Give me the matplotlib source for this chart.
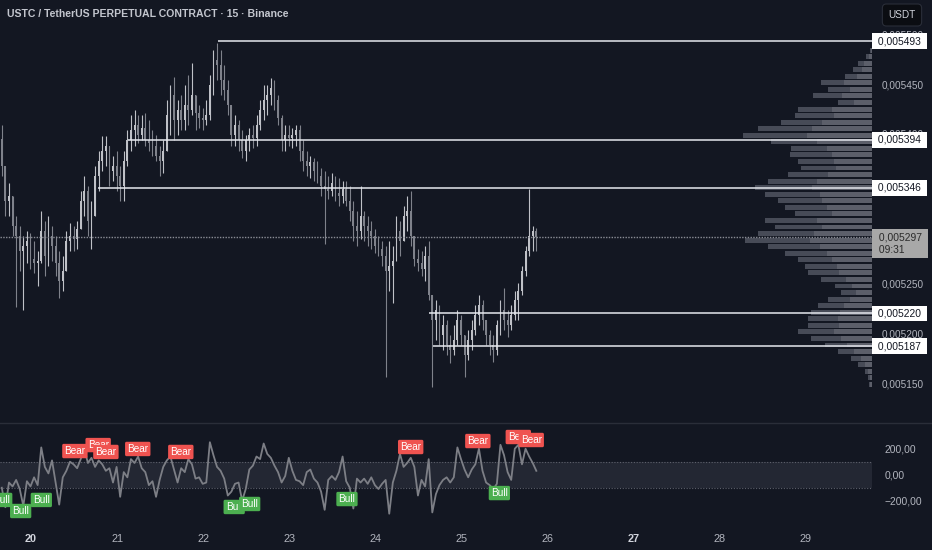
import numpy as np
import matplotlib
matplotlib.use("Agg")
import matplotlib.pyplot as plt
from matplotlib import transforms
from matplotlib.lines import Line2D

plt.rcParams['font.family'] = ['Liberation Sans', 'DejaVu Sans']

# prices are in micro-USDT (5297 -> 0,005297); hourly bars starting at day 19.64
t0 = 19.64

close_u = [5368, 5333, 5338, 5308, 5298, 5283, 5288, 5293, 5275, 5271,
           5273, 5303, 5278, 5298, 5288, 5271, 5253, 5263, 5293, 5298,
           5295, 5305, 5333, 5343, 5313, 5318, 5358, 5373, 5383, 5388,
           5363, 5368, 5358, 5348, 5373, 5394, 5404, 5409, 5399, 5406,
           5394, 5391, 5388, 5378, 5373, 5383, 5419, 5439, 5414, 5424,
           5414, 5429, 5424, 5439, 5421, 5416, 5414, 5419, 5449, 5474,
           5469, 5454, 5444, 5429, 5399, 5409, 5394, 5383, 5394, 5399,
           5396, 5409, 5424, 5434, 5439, 5446, 5434, 5416, 5394, 5399,
           5396, 5399, 5404, 5383, 5373, 5368, 5372, 5363, 5358, 5348,
           5345, 5343, 5351, 5341, 5338, 5345, 5333, 5323, 5308, 5303,
           5318, 5308, 5303, 5298, 5288, 5285, 5278, 5263, 5268, 5273,
           5303, 5293, 5318, 5323, 5298, 5275, 5271, 5265, 5278, 5238,
           5213, 5223, 5198, 5208, 5188, 5183, 5193, 5213, 5198, 5178,
           5193, 5203, 5218, 5228, 5213, 5198, 5188, 5183, 5208, 5223,
           5213, 5208, 5218, 5233, 5243, 5263, 5283, 5298, 5303, 5297]

high_u = [5409, 5368, 5351, 5338, 5318, 5308, 5298, 5303, 5301, 5293,
          5283, 5323, 5313, 5318, 5308, 5298, 5283, 5278, 5303, 5311,
          5308, 5313, 5343, 5358, 5348, 5333, 5368, 5383, 5398, 5398,
          5383, 5378, 5383, 5368, 5383, 5404, 5419, 5424, 5419, 5419,
          5421, 5414, 5404, 5399, 5388, 5394, 5434, 5449, 5457, 5434,
          5439, 5449, 5459, 5471, 5434, 5429, 5426, 5434, 5459, 5484,
          5491, 5484, 5469, 5454, 5429, 5419, 5414, 5404, 5399, 5406,
          5409, 5419, 5434, 5449, 5449, 5456, 5454, 5439, 5419, 5409,
          5409, 5406, 5409, 5409, 5394, 5383, 5378, 5376, 5373, 5366,
          5363, 5358, 5361, 5358, 5356, 5353, 5353, 5348, 5333, 5323,
          5348, 5323, 5318, 5313, 5305, 5298, 5293, 5288, 5293, 5288,
          5318, 5313, 5328, 5338, 5343, 5293, 5285, 5283, 5288, 5293,
          5238, 5233, 5228, 5218, 5213, 5198, 5208, 5223, 5218, 5198,
          5203, 5213, 5228, 5238, 5233, 5213, 5203, 5198, 5213, 5233,
          5246, 5223, 5228, 5243, 5251, 5268, 5288, 5345, 5308, 5306]

low_u = [5358, 5318, 5318, 5298, 5226, 5263, 5223, 5271, 5265, 5261,
         5248, 5271, 5258, 5268, 5273, 5258, 5235, 5243, 5263, 5283,
         5283, 5285, 5308, 5318, 5298, 5285, 5318, 5343, 5363, 5368,
         5348, 5353, 5343, 5333, 5333, 5368, 5383, 5388, 5391, 5394,
         5388, 5383, 5378, 5373, 5358, 5361, 5394, 5399, 5394, 5399,
         5404, 5404, 5409, 5419, 5404, 5406, 5404, 5409, 5414, 5439,
         5454, 5439, 5434, 5419, 5388, 5388, 5383, 5376, 5373, 5383,
         5386, 5388, 5404, 5414, 5419, 5429, 5424, 5409, 5383, 5383,
         5388, 5386, 5388, 5373, 5363, 5358, 5356, 5353, 5351, 5338,
         5290, 5335, 5338, 5333, 5328, 5331, 5328, 5313, 5293, 5288,
         5295, 5293, 5288, 5285, 5281, 5278, 5268, 5156, 5243, 5230,
         5273, 5278, 5293, 5303, 5288, 5268, 5263, 5258, 5253, 5233,
         5146, 5193, 5188, 5183, 5178, 5170, 5178, 5188, 5188, 5156,
         5173, 5183, 5198, 5208, 5203, 5188, 5178, 5171, 5178, 5198,
         5203, 5196, 5203, 5213, 5213, 5238, 5258, 5278, 5283, 5283]

first_open = 5395

cci = [-100, -250, -60, -90, -40, -110, -240, -50, -90, -20,
       -80, 210, 60, 10, 110, -60, -230, -20, 30, 100,
       80, 50, 120, 200, 90, 130, 60, 110, 80, 30,
       50, -60, 60, -170, 20, -20, 120, 90, 140, 50,
       20, -80, -50, -170, -40, 60, 110, 140, 40, -60,
       50, 20, 120, 80, -30, -20, -70, -60, 250, 150,
       60, 30, -30, -160, -130, -70, -60, -200, -110, 40,
       70, 140, 120, 240, 160, 130, 70, 20, -60, -10,
       130, 30, -40, -50, -80, 20, 40, -30, -60, -130,
       -270, -40, -10, -40, 20, 140, -50, -100, -260, -30,
       -60, -30, -70, -20, -80, -110, -70, -40, -300, -60,
       30, 160, 60, 90, 130, 60, -160, -40, -90, 120,
       -290, -150, -80, -40, -20, -60, -20, 210, 120, 40,
       -20, 40, 80, 200, 30, -60, -80, -110, -70, 230,
       150, 20, -40, 200, 230, 80, 200, 140, 90, 30]

# horizontal levels: price, start day
levels = [5493, 5394, 5346, 5220, 5187]
level_start = [22.17, 21.13, 20.78, 24.62, 24.67]
last_price = 5297
last_label = " 0,005297 \n 09:31"

# volume profile (top to bottom)
vp_top, vp_bottom = 5484, 5149
vp_total = [2, 6, 14, 19, 27, 51, 44, 59, 34, 74, 77, 91, 114, 129, 101, 81, 82, 74,
            71, 84, 104, 117, 107, 94, 87, 77, 107, 97, 114, 127, 104, 87, 74, 67,
            64, 51, 37, 31, 44, 54, 61, 64, 64, 74, 61, 47, 34, 21, 14, 7, 4, 3]
vp_up = [1, 3, 8, 10, 15, 28, 22, 30, 18, 40, 38, 50, 60, 65, 55, 45, 40, 38,
         36, 44, 55, 60, 52, 50, 45, 40, 55, 50, 58, 62, 52, 45, 40, 35,
         33, 26, 20, 16, 22, 28, 32, 34, 33, 38, 31, 25, 18, 11, 7, 4, 2, 2]

bear_x = [20.51, 20.78, 20.87, 21.24, 21.74, 24.41, 25.19, 25.66, 25.81]
bear_y = [182, 228, 175, 198, 175, 213, 259, 290, 267]
bull_x = [19.66, 19.88, 20.12, 22.36, 22.54, 23.67, 25.44]
bull_y = [-194, -279, -194, -248, -225, -187, -141]

days = [20, 21, 22, 23, 24, 25, 26, 27, 28, 29]
price_ticks = [5150, 5200, 5250, 5300, 5350, 5400, 5450, 5500]

bg = '#131722'
txt = '#b2b5be'

W, H = 932, 550
fig = plt.figure(figsize=(W / 100, H / 100), dpi=100, facecolor=bg)

ax = fig.add_axes([0, 1 - 420 / H, 872 / W, 420 / H])
axi = fig.add_axes([0, 1 - 527 / H, 872 / W, 103 / H])
axp = ax.twiny()

for a in (ax, axi, axp):
    a.set_facecolor(bg)
    for s in a.spines.values():
        s.set_visible(False)

ax.set_zorder(2)
axp.set_zorder(1)
ax.patch.set_visible(False)

xmin, xmax = 19.64, 29.768
ax.set_xlim(xmin, xmax)
axi.set_xlim(xmin, xmax)
ax.set_ylim(5113.2, 5534.2)

# candles
n = len(close_u)
t = t0 + (np.arange(n) + 0.5) / 24
close = np.array(close_u, float)
open_ = np.concatenate([[first_open], close[:-1]])
high = np.maximum(np.array(high_u, float), np.maximum(open_, close))
low = np.minimum(np.array(low_u, float), np.minimum(open_, close))
up = close >= open_
cols = np.where(up, '#bfc1c7', '#7f828b')
ax.vlines(t, low, high, colors=cols, lw=0.8, zorder=3)
body_h = np.where(np.abs(close - open_) < 1.5, 1.5, np.abs(close - open_))
ax.bar(t, body_h, bottom=np.minimum(open_, close), width=0.5 / 24,
       color=cols, zorder=3, linewidth=0)

# levels
for lv, st in zip(levels, level_start):
    ax.hlines(lv, st, xmax, color='#e6e8ee', lw=1.1, zorder=4)
ax.axhline(last_price, color='#8a8d96', lw=1, ls=(0, (1, 1)), zorder=4)

# volume profile
vp_levels = np.linspace(vp_top, vp_bottom, len(vp_total))
step = (vp_top - vp_bottom) / (len(vp_total) - 1)
axp.barh(vp_levels, vp_total, height=step * 0.75, color='#474b57', linewidth=0)
axp.barh(vp_levels, vp_up, height=step * 0.75, color='#5c5f6a', linewidth=0)
axp.set_xlim(872, 0)
axp.set_xticks([])
axp.set_ylim(ax.get_ylim())

# price axis
ax.set_xticks([])
ax.yaxis.tick_right()
ax.set_yticks(price_ticks)
ax.set_yticklabels(["0,%06d" % p for p in price_ticks])
ax.tick_params(axis='y', length=0, pad=7, labelsize=7.2, colors=txt)

tr = transforms.blended_transform_factory(ax.transAxes, ax.transData)
for lv in levels:
    ax.text(1.0035, lv, " 0,%06d " % lv, transform=tr, ha='left', va='center',
            fontsize=7.4, color='#131722', zorder=10, clip_on=False,
            bbox=dict(boxstyle='square,pad=0.28', fc='white', ec='none'))
ax.annotate(last_label, xy=(1.0, last_price), xycoords=('axes fraction', 'data'),
            xytext=(2.6, -5), textcoords='offset points', ha='left', va='center',
            fontsize=7.4, color='#2a2a2a', linespacing=1.3, zorder=10,
            annotation_clip=False,
            bbox=dict(boxstyle='square,pad=0.32', fc='#a8a8a8', ec='none'))

# indicator pane
axi.set_ylim(-402, 390)
axi.axhspan(-100, 100, color='#232733', lw=0, zorder=0)
axi.axhline(100, color='#5d606b', lw=0.8, ls=(0, (1, 1.5)), zorder=1)
axi.axhline(-100, color='#5d606b', lw=0.8, ls=(0, (1, 1.5)), zorder=1)
axi.plot(t, cci, color='#7d7f86', lw=1.3, zorder=2)

for bx, by in zip(bear_x, bear_y):
    axi.text(bx, by, "Bear", ha='center', va='center', fontsize=7.2, color='white',
             zorder=5, bbox=dict(boxstyle='round,pad=0.22,rounding_size=0.15',
                                 fc='#ef5350', ec='none'))
for bx, by in zip(bull_x, bull_y):
    axi.text(bx, by, "Bull", ha='center', va='center', fontsize=7.2, color='white',
             zorder=5, bbox=dict(boxstyle='round,pad=0.22,rounding_size=0.15',
                                 fc='#4caf50', ec='none'))

axi.yaxis.tick_right()
axi.set_yticks([200, 0, -200])
axi.set_yticklabels(["200,00", "0,00", "\u2212200,00"])
axi.tick_params(axis='y', length=0, pad=9, labelsize=7.4, colors=txt)
axi.set_xticks(days)
axi.set_xticklabels([str(d) for d in days])
axi.tick_params(axis='x', length=0, pad=5, labelsize=7.8, colors=txt)
for lab in axi.get_xticklabels():
    if lab.get_text() in ("20", "27"):
        lab.set_fontweight('bold')
        lab.set_color('#d1d4dc')

# pane separator
fig.add_artist(Line2D([0, 1], [1 - 423 / H] * 2, color='#2a2e39', lw=1))

# header
fig.text(7 / W, 1 - 14 / H, "USTC / TetherUS PERPETUAL CONTRACT \u00b7 15 \u00b7 Binance",
         fontsize=7.6, color='#c3c6ce', fontweight='bold', va='center', ha='left')
fig.text(902 / W, 1 - 15 / H, "USDT", fontsize=7.2, color='#d1d4dc', ha='center', va='center',
         bbox=dict(boxstyle='round,pad=0.6,rounding_size=0.4', fc='#0b0d12', ec='#2a2e39', lw=0.8))

fig.savefig("out.png", dpi=100, facecolor=bg)
